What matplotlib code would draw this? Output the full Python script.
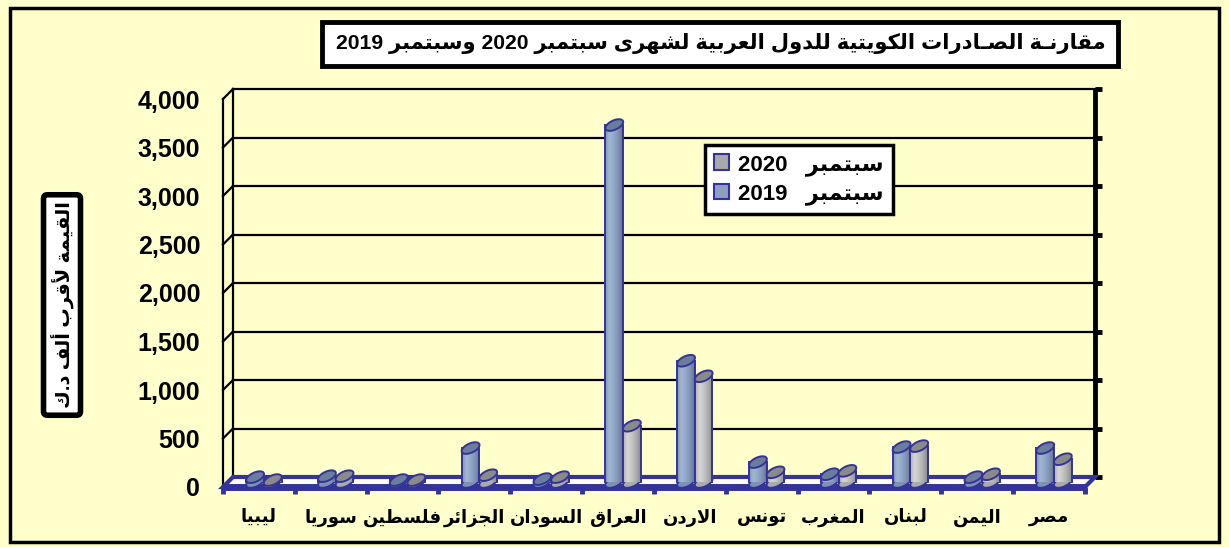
import numpy as np
import matplotlib.pyplot as plt
from matplotlib.patches import Rectangle, Polygon, Patch
from matplotlib.colors import LinearSegmentedColormap

# categories, left to right as in the picture
countries = ['ليبيا', 'سوريا', 'فلسطين', 'الجزائر', 'السودان', 'العراق',
             'الاردن', 'تونس', 'المغرب', 'لبنان', 'اليمن', 'مصر']
sep_2019 = [50, 60, 20, 350, 30, 3680, 1250, 205, 80, 360, 50, 350]
sep_2020 = [20, 60, 20, 70, 50, 580, 1090, 100, 115, 370, 80, 235]
y_ticks = [0, 500, 1000, 1500, 2000, 2500, 3000, 3500, 4000]

title = 'مقارنـة الصـادرات الكويتية للدول العربية لشهرى سبتمبر 2020 وسبتمبر 2019'
y_label = 'القيمة لأقرب ألف د.ك'
leg_2020 = 'سبتمبر   2020'
leg_2019 = 'سبتمبر   2019'

# --- tiny arabic shaper (presentation forms + right-to-left) ---
FORMS = {
    'ا': (0xFE8D, 0xFE8E), 'أ': (0xFE83, 0xFE84), 'د': (0xFEA9, 0xFEAA),
    'ر': (0xFEAD, 0xFEAE), 'ز': (0xFEAF, 0xFEB0), 'و': (0xFEED, 0xFEEE),
    'ة': (0xFE93, 0xFE94), 'ى': (0xFEEF, 0xFEF0),
    'ب': (0xFE8F, 0xFE90, 0xFE91, 0xFE92), 'ت': (0xFE95, 0xFE96, 0xFE97, 0xFE98),
    'ج': (0xFE9D, 0xFE9E, 0xFE9F, 0xFEA0), 'س': (0xFEB1, 0xFEB2, 0xFEB3, 0xFEB4),
    'ش': (0xFEB5, 0xFEB6, 0xFEB7, 0xFEB8), 'ص': (0xFEB9, 0xFEBA, 0xFEBB, 0xFEBC),
    'ط': (0xFEC1, 0xFEC2, 0xFEC3, 0xFEC4), 'ع': (0xFEC9, 0xFECA, 0xFECB, 0xFECC),
    'غ': (0xFECD, 0xFECE, 0xFECF, 0xFED0), 'ف': (0xFED1, 0xFED2, 0xFED3, 0xFED4),
    'ق': (0xFED5, 0xFED6, 0xFED7, 0xFED8), 'ك': (0xFED9, 0xFEDA, 0xFEDB, 0xFEDC),
    'ل': (0xFEDD, 0xFEDE, 0xFEDF, 0xFEE0), 'م': (0xFEE1, 0xFEE2, 0xFEE3, 0xFEE4),
    'ن': (0xFEE5, 0xFEE6, 0xFEE7, 0xFEE8), 'ه': (0xFEE9, 0xFEEA, 0xFEEB, 0xFEEC),
    'ي': (0xFEF1, 0xFEF2, 0xFEF3, 0xFEF4), 'ئ': (0xFE89, 0xFE8A, 0xFE8B, 0xFE8C),
}
LAM_ALEF = {'ا': (0xFEFB, 0xFEFC), 'أ': (0xFEF7, 0xFEF8)}
TATWEEL = 'ـ'


def shape_word(word):
    if not any('\u0600' <= ch <= '\u06FF' for ch in word):
        return word  # numbers stay left to right
    toks = []
    i = 0
    while i < len(word):
        c = word[i]
        if c == 'ل' and i + 1 < len(word) and word[i + 1] in LAM_ALEF:
            toks.append(LAM_ALEF[word[i + 1]])
            i += 2
            continue
        toks.append(FORMS.get(c, c))
        i += 1

    def fwd(t):
        return t == TATWEEL or (isinstance(t, tuple) and len(t) == 4)

    def back(t):
        return t == TATWEEL or isinstance(t, tuple)

    out = []
    for k, t in enumerate(toks):
        if not isinstance(t, tuple):
            out.append(t)
            continue
        p = k > 0 and fwd(toks[k - 1])
        n = len(t) == 4 and k + 1 < len(toks) and back(toks[k + 1])
        idx = (3 if p else 2) if n else (1 if p else 0)
        out.append(chr(t[idx]))
    return ''.join(out)[::-1]


def ar(text):
    words = text.split(' ')
    return ' '.join(shape_word(w) for w in reversed(words))


plt.rcParams['font.family'] = ['Liberation Sans', 'DejaVu Sans']
plt.rcParams['font.weight'] = 'bold'

W, H = 1229, 547
fig = plt.figure(figsize=(W / 100, H / 100), dpi=100, facecolor='#FFFFCC')


def fx(px):
    return px / W


def fy(py):
    return 1 - py / H


# pixel scale of the plot (px per category, px per unit)
XPX, YPX = 71.83, 0.097
DX, DY = -10 / XPX, -10 / YPX
x_lo, x_hi, y_lo, y_hi = -0.3, 12.2, -200, 4100
left_px = 233 + x_lo * XPX
right_px = 233 + x_hi * XPX
bot_px = 477 - y_lo * YPX
top_px = 477 - y_hi * YPX
ax = fig.add_axes([fx(left_px), fy(bot_px), (right_px - left_px) / W, (bot_px - top_px) / H])
ax.set_facecolor('none')
for s in ax.spines.values():
    s.set_visible(False)

n = len(countries)
blue_line = '#333399'

# back wall grid + left side wall
for v in y_ticks:
    if v > 0:
        ax.plot([0, n], [v, v], color='black', lw=1.6, zorder=1)
    ax.plot([0, DX], [v, v + DY], color='black', lw=1.6, zorder=1)
ax.plot([0, 0], [0, y_ticks[-1]], color='black', lw=1.6, zorder=1)
ax.plot([DX, DX], [DY, y_ticks[-1] + DY], color='black', lw=1.6, zorder=1)

# right axis with ticks
ax.plot([n, n], [0, y_ticks[-1]], color='black', lw=3.5, zorder=2, solid_capstyle='butt')
for v in y_ticks:
    ax.plot([n, n + 0.1], [v, v], color='black', lw=3.5, zorder=2, solid_capstyle='butt')

# floor
floor = Polygon([(0, 0), (n, 0), (n + DX, DY), (DX, DY)], closed=True,
                facecolor='white', edgecolor=blue_line, lw=3, zorder=2)
ax.add_patch(floor)
ax.plot([DX, n + DX], [DY, DY], color=blue_line, lw=5, zorder=2.1, solid_capstyle='butt')
for i in range(n + 1):
    ax.plot([i + DX, i + DX], [DY, DY - 75], color=blue_line, lw=3.5, zorder=2.1,
            solid_capstyle='butt')

# cylinders
cm_blue = LinearSegmentedColormap.from_list('b', ['#8196BA', '#A4B6D4', '#93A7C7', '#7E92B3', '#627495'])
cm_grey = LinearSegmentedColormap.from_list('g', ['#AFAFAF', '#D6D6D6', '#C4C4C4', '#ABABAB', '#8A8A8A'])
grad = np.linspace(0, 1, 64)[None, :]
bw = 0.245
t = np.linspace(0, 2 * np.pi, 60)


def ellipse_pts(cx, cy):
    a, b, ang = 9.6, 4.6, np.radians(25)
    ex = a * np.cos(t) * np.cos(ang) - b * np.sin(t) * np.sin(ang)
    ey = a * np.cos(t) * np.sin(ang) + b * np.sin(t) * np.cos(ang)
    return np.column_stack([cx + ex / XPX, cy + ey / YPX])


def cylinder(cx, val, cmap, top_col, side_col, z):
    base = DY / 2
    top = val + DY / 2
    x0, x1 = cx - bw / 2, cx + bw / 2
    ax.add_patch(Polygon(ellipse_pts(cx, base), closed=True, facecolor=side_col,
                         edgecolor=blue_line, lw=1.4, zorder=z))
    ax.imshow(grad, extent=(x0, x1, base, top), aspect='auto', cmap=cmap, zorder=z + 0.1,
              interpolation='bilinear')
    ax.plot([x0, x0], [base, top], color=blue_line, lw=1.4, zorder=z + 0.2)
    ax.plot([x1, x1], [base, top], color=blue_line, lw=1.4, zorder=z + 0.2)
    ax.add_patch(Polygon(ellipse_pts(cx, top), closed=True, facecolor=top_col,
                         edgecolor=blue_line, lw=1.4, zorder=z + 0.3))


for i in range(n):
    c = i + 0.5 + DX / 2
    cylinder(c - bw / 2, sep_2019[i], cm_blue, '#6B7D9C', '#7E92B3', 3 + i)
    cylinder(c + bw / 2, sep_2020[i], cm_grey, '#8A8A8A', '#ABABAB', 3.5 + i)

ax.set_xlim(x_lo, x_hi)
ax.set_ylim(y_lo, y_hi)
ax.set_aspect('auto')

ax.set_yticks([v + DY for v in y_ticks], [f'{v:,}' for v in y_ticks])
ax.set_xticks([i + 0.5 + DX for i in range(n)], [ar(c) for c in countries])
ax.tick_params(axis='y', length=0, pad=8, labelsize=18)
ax.tick_params(axis='x', length=0, pad=9, labelsize=13)

# title box
fig.patches.append(Rectangle((fx(322), fy(66)), (1118 - 322) / W, (66 - 22) / H,
                             transform=fig.transFigure, facecolor='white',
                             edgecolor='black', lw=3.5, zorder=5))
fig.text(fx(721), fy(44), ar(title), ha='center', va='center', fontsize=15.2,
         fontweight='bold', zorder=6)

# y label box
fig.text(fx(62), fy(305), ar(y_label), rotation=90, ha='center', va='center',
         fontsize=14, fontweight='bold',
         bbox=dict(boxstyle='round,pad=0.35,rounding_size=0.2', facecolor='white',
                   edgecolor='black', lw=4))

# legend
handles = [Patch(facecolor='#A9A9A9', edgecolor=blue_line, lw=1.5),
           Patch(facecolor='#8DA0C2', edgecolor=blue_line, lw=1.5)]
leg = fig.legend(handles, [ar(leg_2020), ar(leg_2019)], loc='upper left',
                 bbox_to_anchor=(fx(705), fy(145)), fancybox=False, framealpha=1,
                 edgecolor='black', fontsize=16, handlelength=0.7, handleheight=0.7,
                 handletextpad=0.4, borderpad=0.4, labelspacing=0.35, borderaxespad=0)
leg.get_frame().set_linewidth(2.5)

# outer frame
fig.patches.append(Rectangle((fx(10), fy(542)), (1219 - 10) / W, (542 - 8) / H,
                             transform=fig.transFigure, fill=False,
                             edgecolor='black', lw=2.5))

fig.savefig('out.png', dpi=100, facecolor=fig.get_facecolor())
